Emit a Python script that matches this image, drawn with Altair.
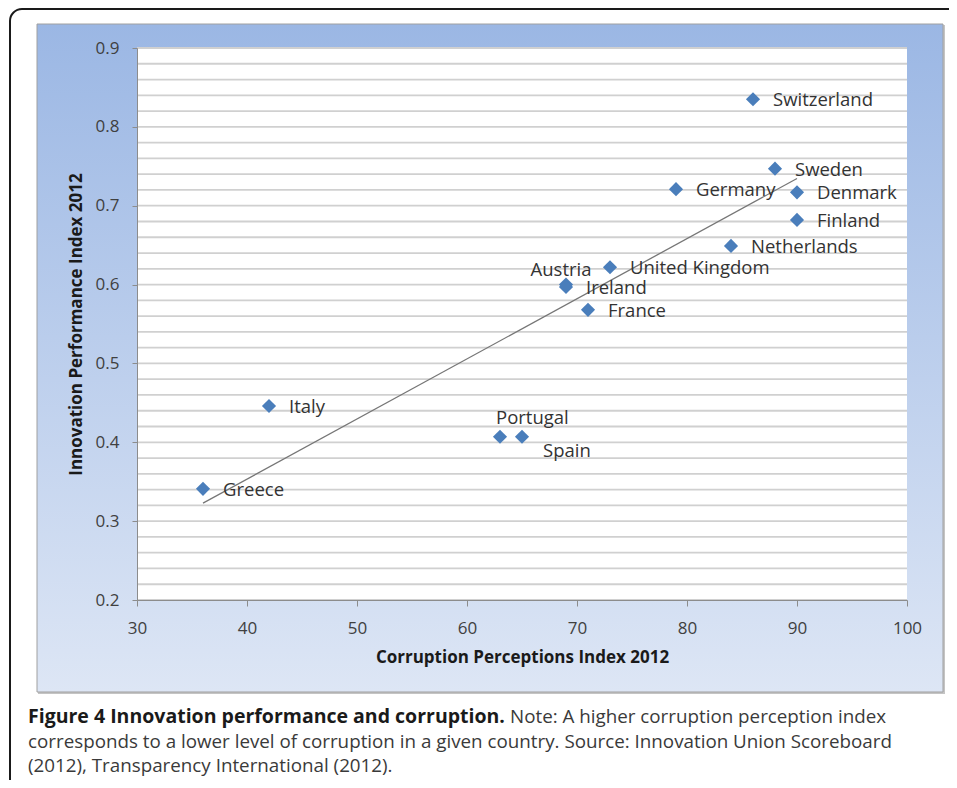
import altair as alt
import pandas as pd

countries = ["Switzerland", "Sweden", "Germany", "Denmark", "Finland", "Netherlands",
             "United Kingdom", "Austria", "Ireland", "France", "Italy", "Portugal",
             "Spain", "Greece"]
cpi = [86, 88, 79, 90, 90, 84, 73, 69, 69, 71, 42, 63, 65, 36]
ipi = [0.835, 0.747, 0.721, 0.717, 0.682, 0.649, 0.622, 0.600, 0.597, 0.568,
       0.446, 0.407, 0.407, 0.341]

x_ticks = [30, 40, 50, 60, 70, 80, 90, 100]
y_ticks = [0.2, 0.3, 0.4, 0.5, 0.6, 0.7, 0.8, 0.9]
grid_values = [0.20, 0.22, 0.24, 0.26, 0.28, 0.30, 0.32, 0.34, 0.36, 0.38,
               0.40, 0.42, 0.44, 0.46, 0.48, 0.50, 0.52, 0.54, 0.56, 0.58,
               0.60, 0.62, 0.64, 0.66, 0.68, 0.70, 0.72, 0.74, 0.76, 0.78,
               0.80, 0.82, 0.84, 0.86, 0.88, 0.90]

caption_bold = "Figure 4 Innovation performance and corruption."
caption_line1 = "Note: A higher corruption perception index"
caption_line2 = "corresponds to a lower level of corruption in a given country. Source: Innovation Union Scoreboard"
caption_line3 = "(2012), Transparency International (2012)."

W, H = 770, 552

df = pd.DataFrame({"country": countries, "cpi": cpi, "ipi": ipi})
grid_df = pd.DataFrame({"ipi": grid_values})
one = pd.DataFrame({"k": [0]})

xscale = alt.Scale(domain=[30, 100], nice=False, zero=False)
yscale = alt.Scale(domain=[0.2, 0.9], nice=False, zero=False)

xaxis = alt.Axis(values=x_ticks, format="d", title="Corruption Perceptions Index 2012",
                 grid=False, domainColor="#8c8c8c", tickColor="#8c8c8c", tickSize=6,
                 labelFont="Open Sans", labelFontSize=17, labelColor="#404040",
                 labelPadding=14, labelFlush=False,
                 titleFont="Open Sans", titleFontWeight="bold", titleFontSize=17,
                 titleColor="#1a1a1a", titlePadding=13, zindex=1)
yaxis = alt.Axis(values=y_ticks, format=".1f", title="Innovation Performance Index 2012",
                 grid=False, domainColor="#8c8c8c", tickColor="#8c8c8c", tickSize=5,
                 labelFont="Open Sans", labelFontSize=17, labelColor="#404040",
                 labelPadding=13, labelFlush=False,
                 titleFont="Open Sans", titleFontWeight="bold", titleFontSize=17,
                 titleColor="#1a1a1a", titlePadding=10, zindex=1)

X = alt.X("cpi:Q", scale=xscale, axis=xaxis)
Y = alt.Y("ipi:Q", scale=yscale, axis=yaxis)

frame = alt.Chart(one).mark_rect(fillOpacity=0, stroke="#1a1a1a", strokeWidth=2,
                                 cornerRadius=12).encode(
    x=alt.value(-127), x2=alt.value(W + 150), y=alt.value(-39), y2=alt.value(H + 400))

shadow = alt.Chart(one).mark_rect(color="#c4c4c4").encode(
    x=alt.value(-99), x2=alt.value(808), y=alt.value(-23), y2=alt.value(646))

gradient = alt.Gradient(
    gradient="linear",
    stops=[alt.GradientStop(offset=0, color="#9bb7e4"),
           alt.GradientStop(offset=1, color="#dde6f5")],
    x1=0, x2=0, y1=0, y2=1)

panel = alt.Chart(one).mark_rect(color=gradient, stroke="#a0a0a0", strokeWidth=1).encode(
    x=alt.value(-100), x2=alt.value(806), y=alt.value(-24), y2=alt.value(644))

plot_bg = alt.Chart(one).mark_rect(color="white").encode(
    x=alt.value(0), x2=alt.value(W), y=alt.value(0), y2=alt.value(H))

grid = alt.Chart(grid_df).mark_rule(color="#d0d0d0", strokeWidth=1.8).encode(
    y=Y, x=alt.value(0), x2=alt.value(W))

trend = alt.Chart(df).transform_regression("cpi", "ipi").mark_line(
    color="#767676", strokeWidth=1.3).encode(x=X, y=Y)

points = alt.Chart(df).mark_point(shape="diamond", filled=True, size=200,
                                  color="#4a7ebb", opacity=1).encode(x=X, y=Y)

label_base = alt.Chart(df).encode(x=X, y=Y, text="country:N")
lab_font = dict(font="Open Sans", fontSize=18.5, color="#333333", baseline="middle")

special = ["Austria", "Portugal", "Spain"]
labels_right = label_base.transform_filter(
    ~alt.FieldOneOfPredicate(field="country", oneOf=special)
).mark_text(align="left", dx=20, dy=1, **lab_font)
labels_austria = label_base.transform_filter(
    alt.datum.country == "Austria").mark_text(align="center", dx=-5, dy=-15, **lab_font)
labels_portugal = label_base.transform_filter(
    alt.datum.country == "Portugal").mark_text(align="left", dx=-4, dy=-19, **lab_font)
labels_spain = label_base.transform_filter(
    alt.datum.country == "Spain").mark_text(align="left", dx=21, dy=14, **lab_font)

cap_bold = alt.Chart(one).mark_text(align="left", baseline="middle", font="Open Sans",
                                    fontWeight="bold", fontSize=19.5, color="#1a1a1a").encode(
    x=alt.value(-109), y=alt.value(669), text=alt.value(caption_bold))
cap_font = dict(align="left", baseline="middle", font="Open Sans",
                fontSize=18.8, color="#3a3a3a")
cap1 = alt.Chart(one).mark_text(**cap_font).encode(
    x=alt.value(373), y=alt.value(669), text=alt.value(caption_line1))
cap2 = alt.Chart(one).mark_text(**cap_font).encode(
    x=alt.value(-109), y=alt.value(694), text=alt.value(caption_line2))
cap3 = alt.Chart(one).mark_text(**cap_font).encode(
    x=alt.value(-109), y=alt.value(718), text=alt.value(caption_line3))

chart = alt.layer(
    frame, shadow, panel, plot_bg, grid, trend, points,
    labels_right, labels_austria, labels_portugal, labels_spain,
    cap_bold, cap1, cap2, cap3
).properties(
    width=W, height=H, autosize="none",
    padding={"left": 129, "top": 40, "right": 42, "bottom": 180}
).configure_view(stroke=None).configure(background="white")

chart.save("out.html", embed_options={"renderer": "svg", "actions": False})
